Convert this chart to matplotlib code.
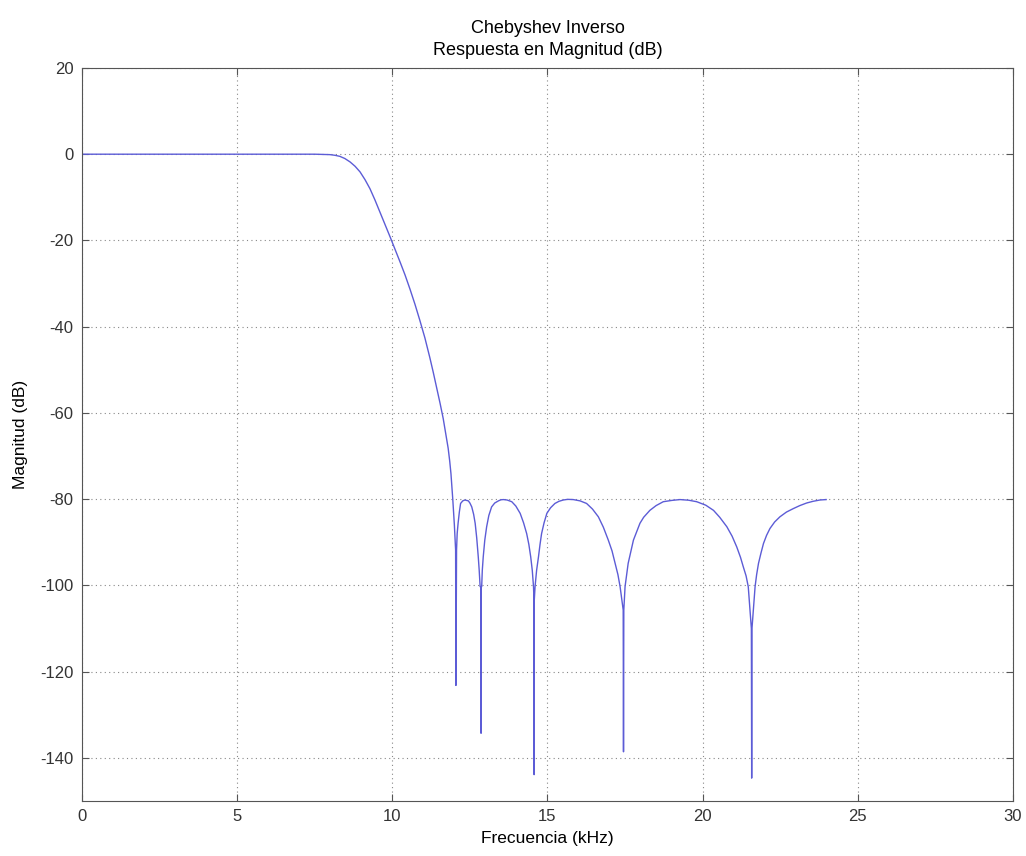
import matplotlib
matplotlib.use('Agg')
import matplotlib.pyplot as plt

# frecuencia (kHz) y magnitud (dB)
freq_khz = [0.0, 2.0, 4.0, 6.0, 7.5, 7.99, 8.15, 8.31, 8.47, 8.64, 8.8, 8.96, 9.12, 9.28, 9.44,
            9.6, 9.76, 9.93, 10.09, 10.25, 10.41, 10.57, 10.73, 10.89, 11.05, 11.21, 11.32, 11.43,
            11.54, 11.64, 11.72, 11.8, 11.85, 11.89, 11.92, 11.95, 12.0, 12.04,
            12.05, 12.07,
            12.09, 12.12, 12.16, 12.2, 12.27, 12.34, 12.45, 12.5, 12.56, 12.62, 12.67, 12.72,
            12.77, 12.8, 12.83, 12.855,
            12.86, 12.865,
            12.88, 12.9, 12.93, 12.98, 13.04, 13.11, 13.2, 13.3, 13.42, 13.5, 13.58, 13.7, 13.85,
            13.98, 14.12, 14.23, 14.33, 14.4, 14.46, 14.51, 14.55, 14.565,
            14.57, 14.575,
            14.6, 14.65, 14.71, 14.76, 14.81, 14.89, 14.98, 15.1, 15.24, 15.37, 15.51, 15.65, 15.83,
            16.05, 16.26, 16.45, 16.64, 16.8, 16.96, 17.08, 17.18, 17.27, 17.34, 17.44,
            17.45, 17.46,
            17.5, 17.6, 17.77, 17.98, 18.1, 18.3, 18.5, 18.73, 19.0, 19.27, 19.55, 19.81, 20.1,
            20.35, 20.55, 20.78, 20.95, 21.1, 21.22, 21.31, 21.4, 21.47, 21.57,
            21.58, 21.59,
            21.64, 21.69, 21.74, 21.8, 21.88, 21.96, 22.06, 22.17, 22.32, 22.49, 22.7, 22.92,
            23.13, 23.35, 23.56, 23.78, 23.98]
mag_db = [0.0, 0.0, 0.0, 0.0, 0.0, -0.1, -0.25, -0.5, -1.0, -1.8, -2.8, -4.1, -5.9, -8.0, -10.6,
          -13.4, -16.2, -19.2, -22.1, -25.0, -28.0, -31.3, -34.8, -38.6, -42.6, -47.2, -50.6, -54.2,
          -57.8, -61.3, -64.7, -68.2, -71.2, -74.1, -77.0, -80.2, -86.0, -91.8,
          -123.2, -91.8,
          -88.0, -85.6, -83.0, -81.0, -80.4, -80.2, -80.4, -80.9, -81.8, -83.5, -85.6, -89.0,
          -93.4, -96.5, -100.3, -100.3,
          -134.3, -100.3,
          -100.3, -96.5, -93.4, -89.5, -86.4, -83.8, -81.8, -80.9, -80.4, -80.15, -80.1, -80.2, -80.6,
          -81.6, -83.3, -85.5, -88.0, -90.5, -93.4, -96.5, -100.3, -103.4,
          -143.9, -103.4,
          -100.3, -96.5, -93.4, -90.5, -88.0, -85.5, -83.3, -82.0, -81.0, -80.5, -80.2, -80.05, -80.1,
          -80.4, -81.0, -82.3, -84.1, -86.5, -89.5, -92.0, -94.9, -97.5, -100.3, -105.7,
          -138.6, -105.7,
          -100.3, -94.9, -89.5, -85.6, -84.2, -82.6, -81.5, -80.6, -80.3, -80.1, -80.25, -80.6, -81.4,
          -82.6, -84.2, -86.4, -88.6, -91.1, -93.5, -95.7, -97.8, -100.3, -110.0,
          -144.7, -110.0,
          -105.0, -100.3, -97.5, -94.9, -92.5, -90.3, -88.4, -86.8, -85.3, -84.1, -83.0, -82.2,
          -81.5, -80.9, -80.5, -80.2, -80.1]

x_ticks = [0, 5, 10, 15, 20, 25, 30]
y_ticks = [20, 0, -20, -40, -60, -80, -100, -120, -140]

plt.rcParams['font.family'] = ['Liberation Sans', 'DejaVu Sans']
plt.rcParams['axes.unicode_minus'] = False

fig = plt.figure(figsize=(10.26, 8.56), dpi=100)
ax = fig.add_axes([0.0799, 0.0643, 0.9074, 0.8563])

ax.plot(freq_khz, mag_db, color=(0.36, 0.36, 0.84), linewidth=1.0)

ax.set_xlim(0, 30)
ax.set_ylim(-150, 20)
ax.set_xticks(x_ticks)
ax.set_yticks(y_ticks)
ax.grid(True, linestyle=(0, (1, 3)), color='#888888', linewidth=0.8)
ax.tick_params(direction='in', top=True, right=True, length=5, color='#555555',
               labelsize=12, labelcolor='#333333', pad=6)
for s in ax.spines.values():
    s.set_color('#555555')
    s.set_linewidth(0.8)

ax.set_title('Chebyshev Inverso\nRespuesta en Magnitud (dB)', fontsize=13, pad=9, linespacing=1.45)
ax.set_xlabel('Frecuencia (kHz)', fontsize=12.5, labelpad=5)
ax.set_ylabel('Magnitud (dB)', fontsize=12.5, labelpad=9)

fig.savefig('out.png', dpi=100)
